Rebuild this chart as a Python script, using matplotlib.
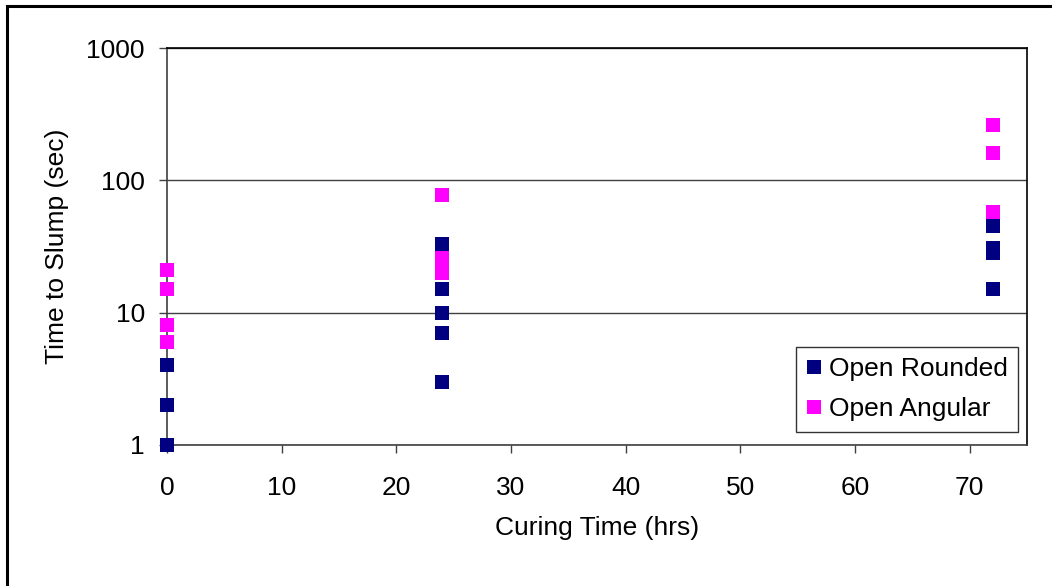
import matplotlib.pyplot as plt
from matplotlib.patches import Rectangle

plt.rcParams["font.family"] = ["Liberation Sans", "DejaVu Sans"]

# Time to slump vs curing time, two aggregate types
rounded_hrs = [0, 0, 0, 24, 24, 24, 24, 24, 72, 72, 72, 72]
rounded_sec = [1, 2, 4, 33, 15, 10, 7, 3, 45, 31, 28, 15]

angular_hrs = [0, 0, 0, 0, 24, 24, 24, 24, 72, 72, 72]
angular_sec = [21, 15, 8, 6, 78, 26, 23, 20, 260, 162, 58]

x_ticks = [0, 10, 20, 30, 40, 50, 60, 70]
y_ticks = [1, 10, 100, 1000]

fig = plt.figure(figsize=(10.52, 5.86), dpi=100)
ax = fig.add_axes([167 / 1052, 1 - 445 / 586, 860 / 1052, 397 / 586])

# outer chart border (cut off at right/bottom)
fig.patches.append(Rectangle((7 / 1052, -0.05), 1.1, 1 - 6 / 586 + 0.05,
                             transform=fig.transFigure, fill=False,
                             edgecolor="black", linewidth=2.2))

ax.plot(rounded_hrs, rounded_sec, "s", color="#000080", markersize=10.5,
        markeredgewidth=0, label="Open Rounded", clip_on=False, zorder=3)
ax.plot(angular_hrs, angular_sec, "s", color="#FF00FF", markersize=10.5,
        markeredgewidth=0, label="Open Angular", clip_on=False, zorder=4)

ax.set_yscale("log")
ax.set_xlim(0, 75)
ax.set_ylim(1, 1000)
ax.set_xticks(x_ticks)
ax.set_yticks(y_ticks)
ax.set_yticklabels([str(v) for v in y_ticks])
ax.minorticks_off()
ax.yaxis.grid(True, color="#404040", linewidth=1)
ax.set_axisbelow(True)

for s in ax.spines.values():
    s.set_color("black")
    s.set_linewidth(1.2)
ax.spines["left"].set_color("#404040")
ax.spines["bottom"].set_color("#404040")

ax.tick_params(axis="both", labelsize=19, direction="out", length=6,
               width=1, color="#404040")
ax.tick_params(axis="x", pad=16)
ax.tick_params(axis="y", pad=10)

ax.set_xlabel("Curing Time (hrs)", fontsize=19, va="center")
ax.set_ylabel("Time to Slump (sec)", fontsize=19, va="center")
ax.xaxis.set_label_coords(0.5, -(528 - 445) / 397)
ax.yaxis.set_label_coords((57 - 167) / 860, 0.5)

leg = ax.legend(loc="lower right", bbox_to_anchor=(851 / 860, 13 / 397),
                borderaxespad=0, fontsize=19, frameon=True, fancybox=False,
                handlelength=0.6, handletextpad=0.25, borderpad=0.4,
                labelspacing=0.62)
leg.get_frame().set_edgecolor("black")
leg.get_frame().set_linewidth(1)

plt.savefig("out.png", dpi=100)
